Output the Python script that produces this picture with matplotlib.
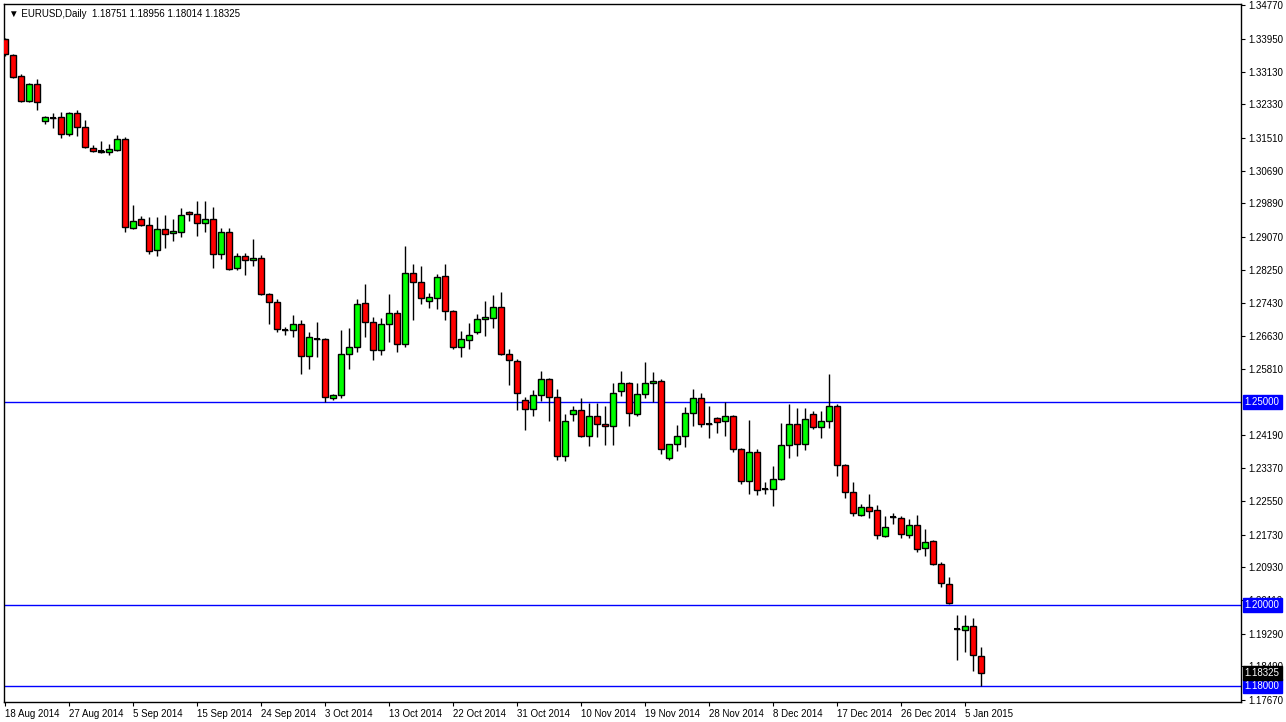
import matplotlib
matplotlib.use("Agg")
import matplotlib.pyplot as plt
import numpy as np

plt.rcParams['font.family'] = ['Liberation Sans', 'DejaVu Sans']

# daily OHLC, 18 Aug 2014 .. 7 Jan 2015 (with sunday bars)
opens = [1.3394,1.3355,1.3303,1.3241,1.3283,1.3192,1.3200,1.3202,1.3160,1.3212,
         1.3177,1.3126,1.3116,1.3116,1.3121,1.3148,1.2929,1.2951,1.2936,1.2874,
         1.2926,1.2916,1.2919,1.2968,1.2963,1.2941,1.2951,1.2865,1.2919,1.2830,
         1.2860,1.2850,1.2855,1.2766,1.2746,1.2677,1.2677,1.2692,1.2613,1.2655,
         1.2655,1.2510,1.2517,1.2618,1.2635,1.2744,1.2697,1.2628,1.2692,1.2719,
         1.2643,1.2818,1.2796,1.2749,1.2756,1.2810,1.2724,1.2635,1.2653,1.2672,
         1.2704,1.2707,1.2734,1.2618,1.2601,1.2505,1.2483,1.2517,1.2557,1.2512,
         1.2367,1.2470,1.2480,1.2416,1.2466,1.2446,1.2441,1.2527,1.2547,1.2470,
         1.2520,1.2547,1.2552,1.2362,1.2397,1.2416,1.2473,1.2510,1.2446,1.2461,
         1.2453,1.2466,1.2384,1.2305,1.2377,1.2286,1.2286,1.2310,1.2394,1.2446,
         1.2397,1.2470,1.2438,1.2453,1.2490,1.2345,1.2278,1.2222,1.2241,1.2234,
         1.2170,1.2217,1.2214,1.2172,1.2197,1.2140,1.2158,1.2101,1.2052,1.1941,
         1.1938,1.1948,1.18751]
highs = [1.3397,1.3357,1.3308,1.3286,1.3296,1.3204,1.3212,1.3214,1.3214,1.3219,
         1.3195,1.3133,1.3143,1.3135,1.3158,1.3153,1.2985,1.2958,1.2956,1.2956,
         1.2961,1.2951,1.2978,1.2970,1.2995,1.2995,1.2980,1.2929,1.2929,1.2867,
         1.2867,1.2901,1.2862,1.2768,1.2754,1.2685,1.2714,1.2702,1.2672,1.2697,
         1.2658,1.2520,1.2677,1.2682,1.2754,1.2791,1.2709,1.2707,1.2766,1.2727,
         1.2884,1.2840,1.2835,1.2768,1.2815,1.2840,1.2727,1.2675,1.2695,1.2717,
         1.2749,1.2764,1.2771,1.2631,1.2606,1.2512,1.2530,1.2576,1.2559,1.2532,
         1.2470,1.2490,1.2510,1.2498,1.2498,1.2490,1.2547,1.2576,1.2549,1.2547,
         1.2599,1.2574,1.2557,1.2397,1.2443,1.2488,1.2532,1.2522,1.2490,1.2463,
         1.2500,1.2468,1.2386,1.2456,1.2384,1.2303,1.2342,1.2448,1.2495,1.2485,
         1.2485,1.2478,1.2478,1.2569,1.2495,1.2347,1.2303,1.2249,1.2273,1.2246,
         1.2219,1.2227,1.2219,1.2212,1.2222,1.2187,1.2160,1.2106,1.2069,1.1975,
         1.1975,1.1968,1.18956]
lows = [1.3352,1.3298,1.3239,1.3239,1.3219,1.3185,1.3175,1.3150,1.3155,1.3155,
        1.3126,1.3116,1.3114,1.3108,1.3118,1.2919,1.2926,1.2933,1.2865,1.2860,
        1.2879,1.2897,1.2906,1.2946,1.2909,1.2919,1.2830,1.2852,1.2825,1.2825,
        1.2813,1.2835,1.2764,1.2692,1.2672,1.2665,1.2660,1.2569,1.2581,1.2611,
        1.2500,1.2505,1.2510,1.2581,1.2623,1.2660,1.2603,1.2616,1.2648,1.2623,
        1.2635,1.2702,1.2741,1.2732,1.2729,1.2702,1.2631,1.2611,1.2631,1.2667,
        1.2663,1.2682,1.2616,1.2542,1.2480,1.2431,1.2466,1.2502,1.2453,1.2357,
        1.2355,1.2453,1.2414,1.2392,1.2414,1.2394,1.2394,1.2515,1.2441,1.2466,
        1.2510,1.2500,1.2372,1.2357,1.2379,1.2389,1.2441,1.2438,1.2411,1.2424,
        1.2416,1.2377,1.2298,1.2273,1.2271,1.2273,1.2244,1.2308,1.2362,1.2367,
        1.2382,1.2434,1.2411,1.2436,1.2318,1.2264,1.2219,1.2219,1.2214,1.2163,
        1.2168,1.2200,1.2165,1.2165,1.2131,1.2121,1.2099,1.2044,1.2002,1.1865,
        1.1884,1.1837,1.18014]
closes = [1.3357,1.3300,1.3241,1.3283,1.3239,1.3202,1.3199,1.3160,1.3212,1.3177,
          1.3128,1.3118,1.3117,1.3123,1.3148,1.2931,1.2946,1.2936,1.2872,1.2926,
          1.2914,1.2921,1.2961,1.2963,1.2941,1.2951,1.2865,1.2919,1.2828,1.2860,
          1.2850,1.2855,1.2766,1.2746,1.2680,1.2678,1.2692,1.2613,1.2660,1.2654,
          1.2512,1.2517,1.2618,1.2635,1.2741,1.2697,1.2628,1.2692,1.2719,1.2643,
          1.2818,1.2796,1.2756,1.2759,1.2808,1.2724,1.2635,1.2655,1.2665,1.2704,
          1.2709,1.2734,1.2618,1.2603,1.2522,1.2483,1.2517,1.2557,1.2512,1.2367,
          1.2453,1.2480,1.2416,1.2466,1.2446,1.2441,1.2522,1.2547,1.2473,1.2520,
          1.2547,1.2552,1.2384,1.2397,1.2416,1.2473,1.2510,1.2446,1.2445,1.2451,
          1.2466,1.2384,1.2305,1.2377,1.2283,1.2285,1.2310,1.2394,1.2446,1.2397,
          1.2458,1.2438,1.2453,1.2490,1.2345,1.2278,1.2227,1.2241,1.2232,1.2172,
          1.2192,1.2216,1.2175,1.2197,1.2138,1.2155,1.2101,1.2054,1.2004,1.1940,
          1.1948,1.1877,1.18325]

date_labels = ["18 Aug 2014","27 Aug 2014","5 Sep 2014","15 Sep 2014","24 Sep 2014",
               "3 Oct 2014","13 Oct 2014","22 Oct 2014","31 Oct 2014","10 Nov 2014",
               "19 Nov 2014","28 Nov 2014","8 Dec 2014","17 Dec 2014","26 Dec 2014",
               "5 Jan 2015"]
price_ticks = [1.34770,1.33950,1.33130,1.32330,1.31510,1.30690,1.29890,1.29070,
               1.28250,1.27430,1.26630,1.25810,1.24190,1.23370,1.22550,1.21730,
               1.20930,1.20110,1.19290,1.18490,1.17670]
levels = [1.25, 1.20, 1.18]

o = np.array(opens); h = np.array(highs); l = np.array(lows); c = np.array(closes)
x = np.arange(len(o))

fig = plt.figure(figsize=(12.86, 7.22), dpi=100)
ax = fig.add_axes([4/1286, 20/722, 1237/1286, 698/722])

ax.vlines(x, l, h, color="black", linewidth=1, zorder=2)
up = c > o
body_bot = np.minimum(o, c)
body_h = np.abs(c - o)
colors = np.where(up, "#00ff00", "#ff0000")
ax.bar(x, body_h, bottom=body_bot, width=0.72, color=colors,
       edgecolor="black", linewidth=1, zorder=3)
doji = body_h < 0.0002
ax.hlines(c[doji], x[doji] - 0.36, x[doji] + 0.36, color="black", linewidth=1.5, zorder=4)

for lv in levels:
    ax.axhline(lv, color="#0000ff", linewidth=1, zorder=1)

ax.set_xlim(-0.15, 154.5)
ax.set_ylim(1.1761, 1.3480)

ax.yaxis.tick_right()
ax.set_yticks(price_ticks)
ax.set_yticklabels(["%.5f" % p for p in price_ticks], fontsize=7)
ax.tick_params(axis="y", length=3, pad=2)
ax.set_xticks(x[::8])
ax.set_xticklabels(date_labels, fontsize=7, ha="left")
ax.tick_params(axis="x", length=3, pad=2)
for s in ax.spines.values():
    s.set_linewidth(1)

# price boxes on the right axis
boxes = [(1.25, "#0000ff"), (1.20, "#0000ff"), (1.18, "#0000ff"), (c[-1], "black")]
for val, col in boxes:
    ax.text(1.003, val, "%.5f" % val, transform=ax.get_yaxis_transform(),
            fontsize=7, color="white", va="center", ha="left", zorder=10,
            bbox=dict(boxstyle="square,pad=0.2", fc=col, ec=col), clip_on=False)

ax.text(0.004, 0.993, "\u25bc EURUSD,Daily  1.18751 1.18956 1.18014 1.18325",
        transform=ax.transAxes, fontsize=7, va="top", ha="left")

fig.savefig("out.png", dpi=100)
